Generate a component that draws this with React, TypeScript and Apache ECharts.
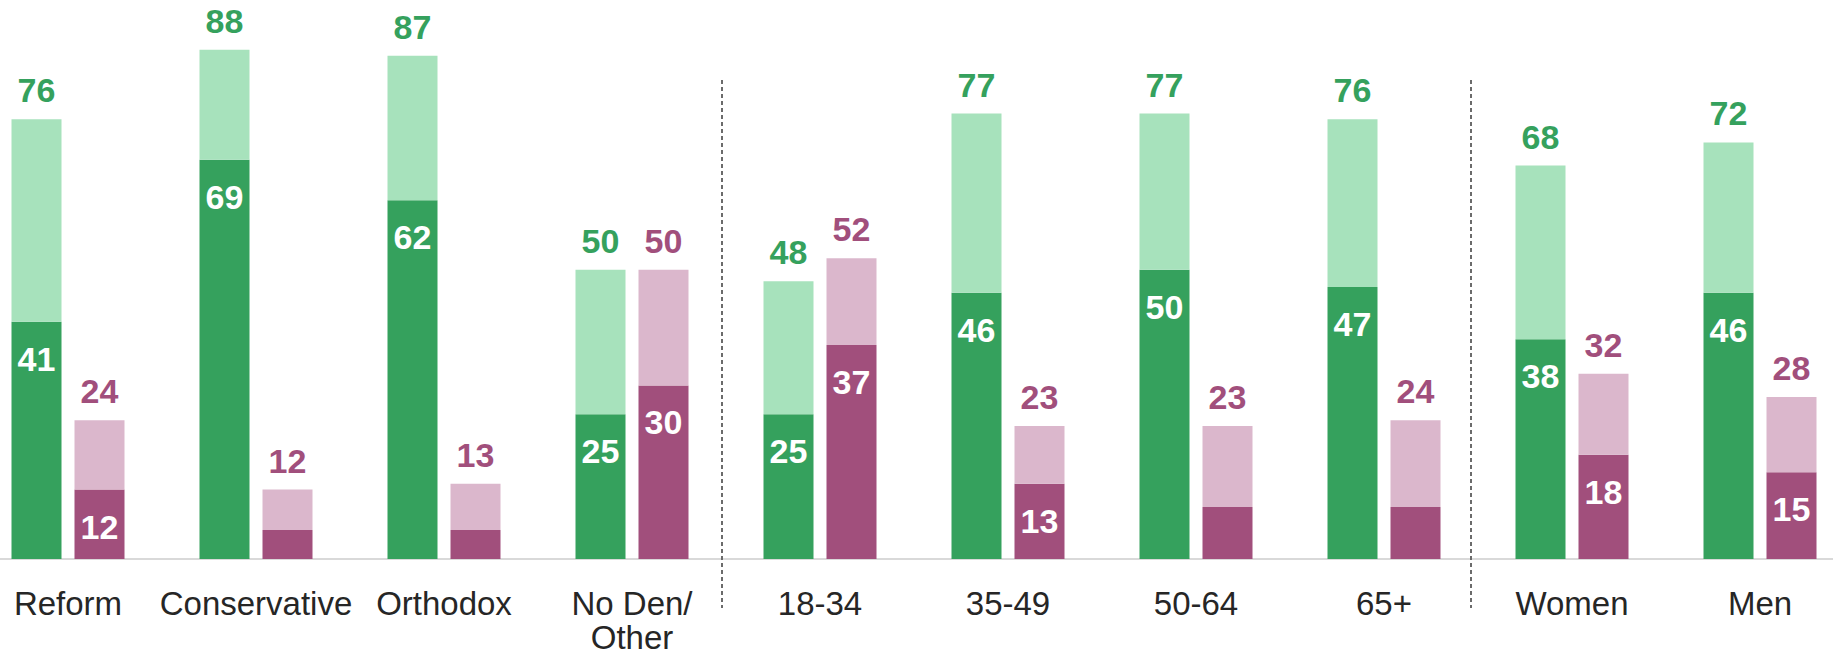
import React, { useEffect, useRef } from "react";
import * as echarts from "echarts";

const categories = [
  "Reform",
  "Conservative",
  "Orthodox",
  "No Den/\nOther",
  "18-34",
  "35-49",
  "50-64",
  "65+",
  "Women",
  "Men",
];
const greenTotal = [76, 88, 87, 50, 48, 77, 77, 76, 68, 72];
const greenInner = [41, 69, 62, 25, 25, 46, 50, 47, 38, 46];
const purpleTotal = [24, 12, 13, 50, 52, 23, 23, 24, 32, 28];
const purpleInner = [12, 5, 5, 30, 37, 13, 9, 9, 18, 15];
const purpleInnerLabelShown = [true, false, false, true, true, true, false, false, true, true];
// dividers sit after these category indices
const dividerAfter = [3, 7];

const GREEN_DARK = "#35A15D";
const GREEN_LIGHT = "#A7E2BC";
const PURPLE_DARK = "#A14F7C";
const PURPLE_LIGHT = "#DBB7CC";
const FONT = "'Liberation Sans', Arial, sans-serif";

export default function App() {
  const ref = useRef<HTMLDivElement>(null);

  useEffect(() => {
    if (!ref.current) return;
    const chart = echarts.init(ref.current, null, { renderer: "svg" });

    const common = {
      type: "bar",
      barWidth: 50,
      barGap: "26%",
    };
    const insideLabel = {
      show: true,
      position: "insideTop",
      distance: 20,
      color: "#ffffff",
      fontFamily: FONT,
      fontWeight: "bold",
      fontSize: 34,
    };
    const topLabel = (color: string, totals: number[]) => ({
      show: true,
      position: "top",
      distance: 12,
      color,
      fontFamily: FONT,
      fontWeight: "bold",
      fontSize: 34,
      formatter: (p: any) => String(totals[p.dataIndex]),
    });

    const option: any = {
      animation: false,
      grid: { left: 0, right: 0, top: 38.3, height: 525.2 },
      xAxis: {
        type: "category",
        data: categories,
        axisTick: { show: false },
        axisLine: { lineStyle: { color: "#D9D9D9", width: 2 } },
        axisLabel: {
          interval: 0,
          margin: 27,
          color: "#262626",
          fontFamily: FONT,
          fontSize: 33,
          lineHeight: 34,
          verticalAlign: "top",
        },
      },
      yAxis: { type: "value", min: 0, max: 90, show: false, splitLine: { show: false } },
      series: [
        {
          ...common,
          name: "greenInner",
          stack: "g",
          itemStyle: { color: GREEN_DARK },
          data: greenInner,
          label: insideLabel,
        },
        {
          ...common,
          name: "greenRest",
          stack: "g",
          itemStyle: { color: GREEN_LIGHT },
          data: greenTotal.map((t, i) => t - greenInner[i]),
          label: topLabel(GREEN_DARK, greenTotal),
        },
        {
          ...common,
          name: "purpleInner",
          stack: "p",
          itemStyle: { color: PURPLE_DARK },
          data: purpleInner.map((v, i) => ({
            value: v,
            label: { show: purpleInnerLabelShown[i] },
          })),
          label: insideLabel,
        },
        {
          ...common,
          name: "purpleRest",
          stack: "p",
          itemStyle: { color: PURPLE_LIGHT },
          data: purpleTotal.map((t, i) => t - purpleInner[i]),
          label: topLabel(PURPLE_DARK, purpleTotal),
        },
      ],
    };
    chart.setOption(option);

    const offsets = [-4, -7];
    const graphics = dividerAfter.map((idx, k) => {
      const a = chart.convertToPixel({ xAxisIndex: 0 }, idx) as number;
      const b = chart.convertToPixel({ xAxisIndex: 0 }, idx + 1) as number;
      const x = (a + b) / 2 + offsets[k];
      return {
        type: "line",
        shape: { x1: x, y1: 80, x2: x, y2: 608 },
        style: { stroke: "#6b6b6b", lineWidth: 2, lineDash: [4, 3] },
        z: 10,
      };
    });
    chart.setOption({ graphic: graphics });

    return () => chart.dispose();
  }, []);

  return (
    <div
      style={{
        position: "fixed",
        left: 0,
        top: 0,
        width: 1833,
        height: 654,
        overflow: "hidden",
        background: "#fff",
      }}
    >
      <div
        ref={ref}
        style={{ position: "absolute", left: -26.5, top: 0, width: 1880, height: 654 }}
      />
    </div>
  );
}
